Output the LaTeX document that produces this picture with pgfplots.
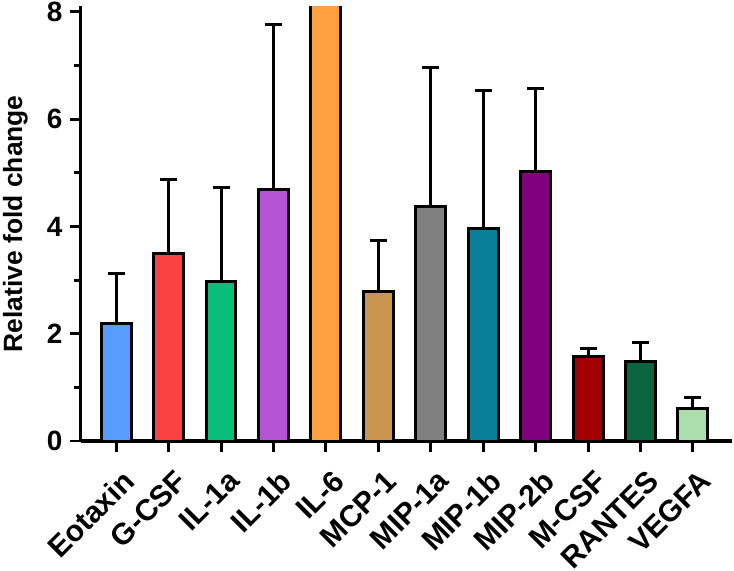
\documentclass[border=0pt]{standalone}
\usepackage{fontspec}
\setmainfont{Liberation Sans}
\usepackage{pgfplots}
\pgfplotsset{compat=1.18}
\definecolor{cEot}{HTML}{559DFF}
\definecolor{cGcsf}{HTML}{F94242}
\definecolor{cIla}{HTML}{07BF7A}
\definecolor{cIlb}{HTML}{B455D6}
\definecolor{cIl6}{HTML}{FFA040}
\definecolor{cMcp}{HTML}{C8964F}
\definecolor{cMipa}{HTML}{808080}
\definecolor{cMipb}{HTML}{0A7F99}
\definecolor{cMip2}{HTML}{800080}
\definecolor{cMcsf}{HTML}{A00000}
\definecolor{cRan}{HTML}{0A6641}
\definecolor{cVeg}{HTML}{ABDEAB}
\begin{document}
\begin{tikzpicture}
\begin{axis}[
  scale only axis,
  width=654pt, height=436pt,
  xmin=-0.68, xmax=11.75,
  ymin=0, ymax=8.1,
  axis lines*=left,
  axis line style={line width=3.5pt},
  clip=true,
  ytick={0,2,4,6,8},
  minor ytick={1,3,5,7},
  xtick={0,...,11},
  xticklabels={Eotaxin,G-CSF,IL-1a,IL-1b,IL-6,MCP-1,MIP-1a,MIP-1b,MIP-2b,M-CSF,RANTES,VEGFA},
  tick align=outside,
  major tick length=11pt,
  minor tick length=7pt,
  every tick/.style={black, line width=3pt},
  /pgf/number format/assume math mode=true,
  yticklabel style={font=\fontsize{28}{28}\selectfont\bfseries, inner sep=2pt, xshift=-5pt},
  xticklabel style={inner sep=0pt, xshift=13pt, yshift=-24pt, rotate=45, anchor=east, font=\fontsize{30}{30}\selectfont\bfseries},
  ylabel={Relative fold change},
  ylabel style={font=\fontsize{26.5}{26.5}\selectfont\bfseries, inner sep=3pt, yshift=14pt},
  ybar, bar width=30pt, bar shift=0pt,
  every axis plot/.append style={draw=black, line width=3pt},
  error bars/y dir=plus,
  error bars/y explicit,
  error bars/error mark=-,
  error bars/error bar style={line width=3pt, black},
  error bars/error mark options={line width=3pt, black, mark size=8.5pt, rotate=90},
]
\addplot[fill=cEot] coordinates {(0,2.19) +- (0,0.93)};
\addplot[fill=cGcsf] coordinates {(1,3.50) +- (0,1.38)};
\addplot[fill=cIla] coordinates {(2,2.98) +- (0,1.75)};
\addplot[fill=cIlb] coordinates {(3,4.68) +- (0,3.08)};
\addplot[fill=cIl6] coordinates {(4,12.0) +- (0,0)};
\addplot[fill=cMcp] coordinates {(5,2.78) +- (0,0.95)};
\addplot[fill=cMipa] coordinates {(6,4.37) +- (0,2.59)};
\addplot[fill=cMipb] coordinates {(7,3.96) +- (0,2.57)};
\addplot[fill=cMip2] coordinates {(8,5.02) +- (0,1.55)};
\addplot[fill=cMcsf] coordinates {(9,1.57) +- (0,0.15)};
\addplot[fill=cRan] coordinates {(10,1.48) +- (0,0.36)};
\addplot[fill=cVeg] coordinates {(11,0.61) +- (0,0.20)};
\end{axis}
\end{tikzpicture}
\end{document}
